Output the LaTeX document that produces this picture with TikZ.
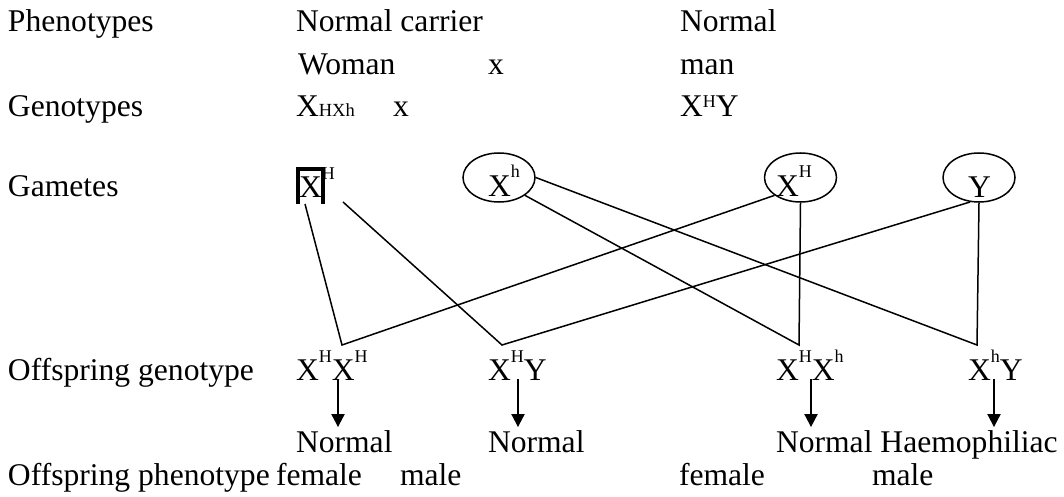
\documentclass[tikz,border=0pt]{standalone}
\usepackage{fontspec}
\setmainfont{Liberation Serif}
\usetikzlibrary{shapes.geometric,arrows.meta}
\newcommand\hsup[1]{\raisebox{9pt}{\fontsize{18}{20}\selectfont #1}}
\newcommand\hsupg[1]{\raisebox{18pt}{\fontsize{18}{20}\selectfont #1}}
\newcommand\hlow[1]{{\fontsize{18.5}{20}\selectfont #1}}
\begin{document}
\begin{tikzpicture}[x=1pt,y=-1pt,
  txt/.style={anchor=base west,inner sep=0pt,outer sep=0pt,font=\fontsize{31.6}{36}\selectfont},
  gam/.style={ellipse,draw,line width=1.5pt,minimum width=72pt,minimum height=49pt,inner sep=0pt},
  link/.style={line width=1.5pt},
  arr/.style={line width=2pt,-{Triangle[width=13pt,length=13pt]},shorten >=3pt},
  brk/.style={line width=4pt}]
\useasboundingbox (0,0) rectangle (1064,497);
% row 1-3
\node[txt] (lphen) at (8,32) {Phenotypes};
\node[txt] (pw) at (296,32) {Normal carrier};
\node[txt] (pm) at (680,32) {Normal};
\node[txt] (woman) at (298,75) {Woman};
\node[txt] (cross1) at (488,75) {x};
\node[txt] (man) at (680,75) {man};
\node[txt] (lgen) at (8,117) {Genotypes};
\node[txt] (gw) at (296,117) {X\hlow{HXh}};
\node[txt] (cross2) at (393,117) {x};
\node[txt] (gm) at (680,117) {X\hsup{H}Y};
% gametes
\node[txt] (lgam) at (8,196) {Gametes};
\node[txt] (bX) at (299,197) {X\hsupg{H}};
\draw[brk] (298,204) -- (298,169) -- (322.5,169) -- (322.5,204);
\node[gam] (eXh) at (499,177.5) {};
\node[txt] (tXh) at (488,196) {X\hsupg{h}};
\node[gam] (eXH) at (800.5,177.5) {};
\node[txt] (tXH) at (776,196) {X\hsupg{H}};
\node[gam] (eY) at (979,177.5) {};
\node[txt] (tY) at (968,197) {Y};
% junction points
\coordinate (bl) at (305,204);
\coordinate (br) at (343,202);
\coordinate (v1) at (342,345);
\coordinate (v2) at (502,345);
\coordinate (v3) at (799,345);
\coordinate (v4) at (977,345);
\draw[link] (bl) -- (v1) -- (eXH.south west);
\draw[link] (br) -- (v2) -- (eY.-110);
\draw[link] (eXh.south east) -- (v3) -- (eXH.south);
\draw[link] (eXh.east) -- (v4) -- (eY.south);
% offspring genotype
\node[txt] (lofg) at (8,380) {Offspring genotype};
\node[txt] (o1) at (296,380) {X\hsupg{H}X\hsupg{H}};
\node[txt] (o2) at (488,380) {X\hsupg{H}Y};
\node[txt] (o3) at (776,380) {X\hsupg{H}X\hsupg{h}};
\node[txt] (o4) at (968,380) {X\hsupg{h}Y};
% phenotypes
\node[txt] (n1) at (296,452) {Normal};
\node[txt] (n2) at (488,452) {Normal};
\node[txt] (n3) at (776,452) {Normal Haemophiliac};
\node[txt] (lofp) at (8,485) {Offspring phenotype};
\node[txt] (s1) at (276,485) {female};
\node[txt] (s2) at (400,485) {male};
\node[txt] (s3) at (679,485) {female};
\node[txt] (s4) at (872,485) {male};
% arrows
\coordinate (a1) at (338,379);
\coordinate (a2) at (518,379);
\coordinate (a3) at (811,379);
\coordinate (a4) at (994,379);
\draw[arr] (a1) -- (a1 |- n1.north);
\draw[arr] (a2) -- (a2 |- n2.north);
\draw[arr] (a3) -- (a3 |- n3.north);
\draw[arr] (a4) -- (a4 |- n3.north);
\end{tikzpicture}
\end{document}
